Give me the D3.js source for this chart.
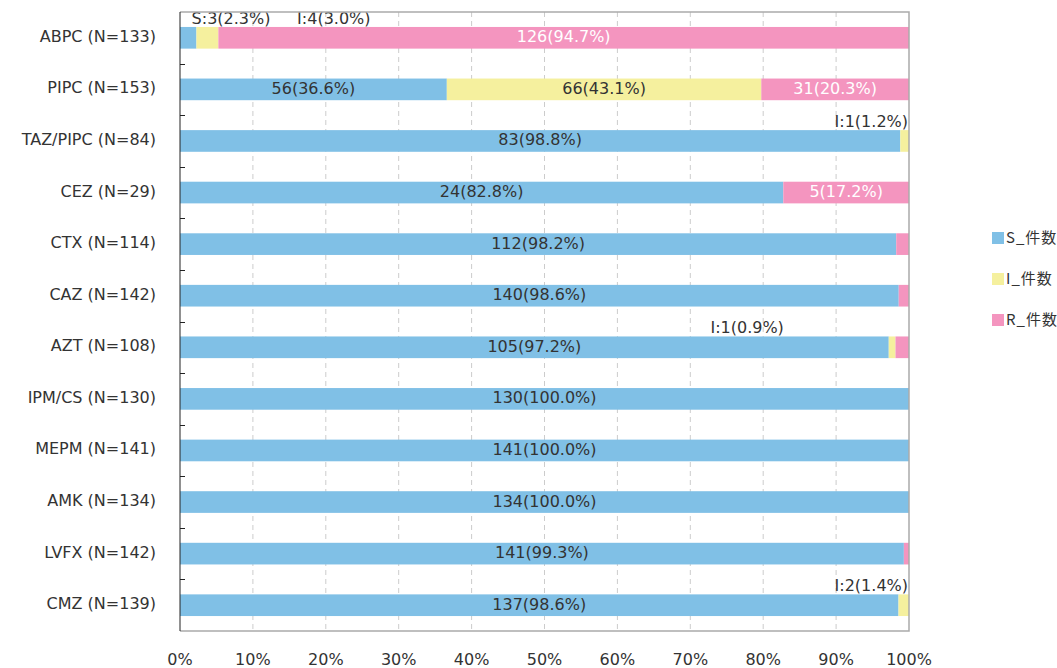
<!DOCTYPE html>
<html>
<head>
<meta charset="utf-8">
<script src="https://cdn.jsdelivr.net/npm/d3@7"></script>
<style>
	body { margin: 0; background: #fff; }
	svg text { font-family: "DejaVu Sans", Verdana, sans-serif; fill: #333; }
	.legend text { font-family: "Noto Sans CJK JP", sans-serif; }
</style>
</head>
<body>
<div id="chart"></div>
<script>
// categories (top to bottom) and counts per series
const categories = ['ABPC', 'PIPC', 'TAZ/PIPC', 'CEZ', 'CTX', 'CAZ', 'AZT', 'IPM/CS', 'MEPM', 'AMK', 'LVFX', 'CMZ'];
const totals  = [133, 153, 84, 29, 114, 142, 108, 130, 141, 134, 142, 139];
const sCounts = [3, 56, 83, 24, 112, 140, 105, 130, 141, 134, 141, 137];
const iCounts = [4, 66, 1, 0, 0, 0, 1, 0, 0, 0, 0, 2];
const rCounts = [126, 31, 0, 5, 2, 2, 2, 0, 0, 0, 1, 0];
const seriesNames = ['S_件数', 'I_件数', 'R_件数'];
const xTicks = [0, 0.1, 0.2, 0.3, 0.4, 0.5, 0.6, 0.7, 0.8, 0.9, 1];

// where the small-segment callouts sit (share of axis, anchor)
const callouts = {
	'ABPC|S': [0.07, 'middle'],
	'ABPC|I': [0.211, 'middle'],
	'TAZ/PIPC|I': [1, 'end'],
	'AZT|I': [0.778, 'middle'],
	'CMZ|I': [1, 'end']
};

const config = {
	width: 1057,
	height: 668,
	left: 180,
	right: 909,
	top: 12,
	bottom: 631,
	colours: ['#80c0e6', '#f5f09e', '#f495bf'],
	labelColours: ['#333', '#333', '#fff']
};

const svg = d3.select('#chart')
	.append('svg')
	.attr('width', config.width)
	.attr('height', config.height);

const x = d3.scaleLinear().domain([0, 1]).range([config.left, config.right]);
const y = d3.scaleBand().domain(categories).range([config.top, config.bottom]).paddingInner(0.58).paddingOuter(0.29);

// dashed grid
svg.append('g')
	.selectAll('line')
	.data(xTicks.slice(1, -1))
	.enter()
	.append('line')
		.attr('x1', d => x(d)).attr('x2', d => x(d))
		.attr('y1', config.top).attr('y2', config.bottom)
		.attr('stroke', '#ccc')
		.attr('stroke-dasharray', '5,4');

// stacked data
const rows = categories.map((c, i) => ({ cat: c, n: totals[i], S: sCounts[i], I: iCounts[i], R: rCounts[i] }));
const stack = d3.stack().keys(['S', 'I', 'R']).value((d, k) => d[k] / d.n);
const layers = stack(rows);

svg.append('g')
	.selectAll('g')
	.data(layers)
	.enter()
	.append('g')
		.attr('fill', (d, i) => config.colours[i])
	.selectAll('rect')
	.data(d => d)
	.enter()
	.append('rect')
		.attr('x', d => x(d[0]))
		.attr('y', d => y(d.data.cat))
		.attr('width', d => x(d[1]) - x(d[0]))
		.attr('height', y.bandwidth());

// segment labels
const labels = svg.append('g').attr('font-size', 16);
layers.forEach((layer, li) => {
	const key = layer.key;
	layer.forEach(d => {
		const count = d.data[key];
		if (!count) return;
		const share = d[1] - d[0];
		const text = `${count}(${(count / d.data.n * 100).toFixed(1)}%)`;
		if (share >= 0.1) {
			labels.append('text')
				.attr('x', x((d[0] + d[1]) / 2))
				.attr('y', y(d.data.cat) + y.bandwidth() / 2)
				.attr('dy', '0.28em')
				.attr('text-anchor', 'middle')
				.style('fill', config.labelColours[li])
				.text(text);
		} else if (callouts[`${d.data.cat}|${key}`]) {
			const c = callouts[`${d.data.cat}|${key}`];
			labels.append('text')
				.attr('x', x(c[0]) - (c[1] === 'end' ? 1 : 0))
				.attr('y', y(d.data.cat) - 3)
				.attr('text-anchor', c[1])
				.text(`${key}:${text}`);
		}
	});
});

// frame
svg.append('path')
	.attr('d', `M${config.left},${config.top}H${config.right}V${config.bottom}H${config.left}`)
	.attr('fill', 'none')
	.attr('stroke', '#aaa')
	.attr('stroke-width', 1.5);

// left axis
const step = y.step();
const boundaries = categories.slice(1).map(c => y(c) - (step - y.bandwidth()) / 2);
const yAxis = svg.append('g');
yAxis.append('line')
	.attr('x1', config.left).attr('x2', config.left)
	.attr('y1', config.top).attr('y2', config.bottom)
	.attr('stroke', '#222');
yAxis.selectAll('.tick')
	.data(boundaries)
	.enter()
	.append('line')
		.attr('x1', config.left).attr('x2', config.left + 5)
		.attr('y1', d => Math.round(d) + 0.5).attr('y2', d => Math.round(d) + 0.5)
		.attr('stroke', '#222');
yAxis.selectAll('text')
	.data(rows)
	.enter()
	.append('text')
		.attr('x', config.left - 24)
		.attr('y', d => y(d.cat) + y.bandwidth() / 2)
		.attr('dy', '0.25em')
		.attr('text-anchor', 'end')
		.attr('font-size', 16)
		.text(d => `${d.cat} (N=${d.n})`);

// bottom tick labels
svg.append('g')
	.selectAll('text')
	.data(xTicks)
	.enter()
	.append('text')
		.attr('x', d => x(d))
		.attr('y', 659)
		.attr('dy', '0.35em')
		.attr('text-anchor', 'middle')
		.attr('font-size', 16)
		.text(d => d3.format('.0%')(d));

// legend
const legend = svg.append('g').attr('class', 'legend');
const item = legend.selectAll('g')
	.data(seriesNames)
	.enter()
	.append('g')
		.attr('transform', (d, i) => `translate(992,${238 + i * 41})`);
item.append('rect')
	.attr('y', -6)
	.attr('width', 12)
	.attr('height', 12)
	.attr('fill', (d, i) => config.colours[i]);
item.append('text')
	.attr('x', 14)
	.attr('dy', '0.35em')
	.attr('font-size', 15)
	.attr('letter-spacing', 1)
	.text(d => d);
</script>
</body>
</html>
